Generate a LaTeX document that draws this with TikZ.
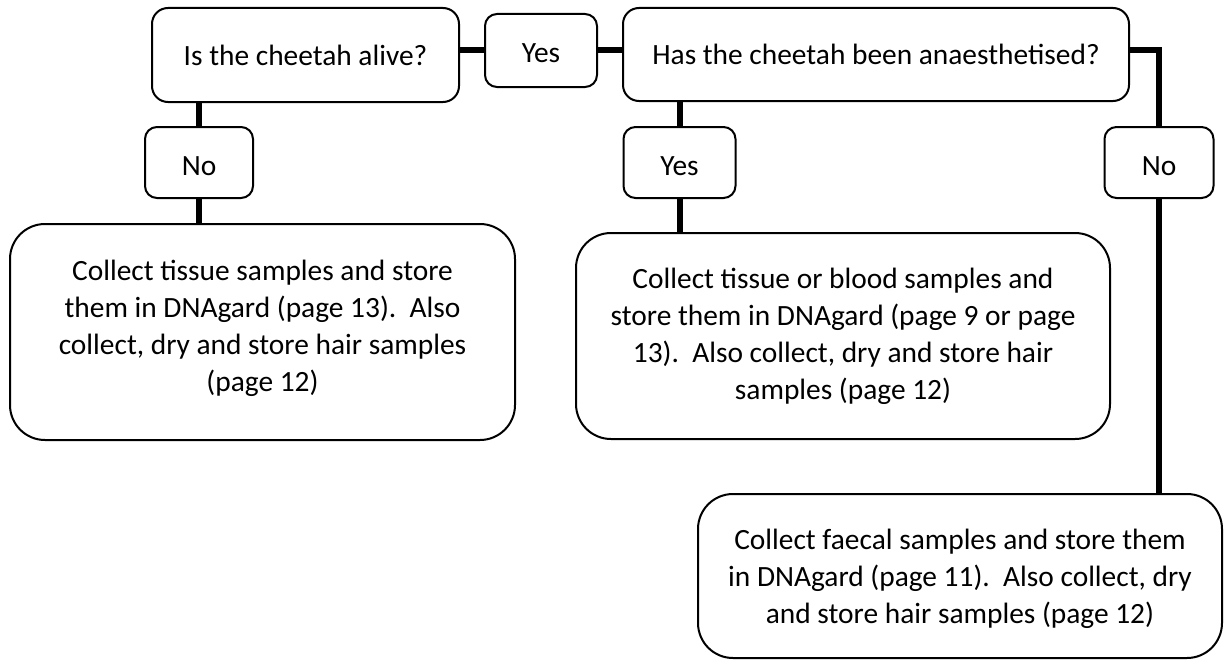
\documentclass[tikz,border=0pt]{standalone}
\usepackage{fontspec}
\setmainfont{Carlito}
\begin{document}
\begin{tikzpicture}[x=1pt,y=-1pt,
  box/.style={draw=black, line width=2pt, fill=white, rounded corners=#1, inner sep=0pt, align=center,
     font=\fontsize{29.4}{37}\selectfont},
  box/.default=16pt,
  small/.style={box=12pt, text height=25pt, text depth=0pt},
  txt/.style={inner sep=0pt, align=center, font=\fontsize{29.4}{37}\selectfont},
  conn/.style={draw=black, line width=6pt}]
\useasboundingbox (0,0) rectangle (1226,661);
% nodes
\node[box, minimum width=307pt, minimum height=94pt] (A) at (305.5,55) {Is the cheetah alive?};
\node[small, minimum width=112pt, minimum height=73pt] (Y1) at (541,50.5) {Yes};
\node[box, minimum width=506pt, minimum height=93pt] (B) at (876,54.5) {Has the cheetah been anaesthetised?};
\node[small, minimum width=108pt, minimum height=71pt] (N1) at (199,162.5) {No};
\node[small, minimum width=112pt, minimum height=71pt] (Y2) at (679.5,162.5) {Yes};
\node[small, minimum width=109pt, minimum height=71pt] (N2) at (1159,162.5) {No};
\node[box=35pt, minimum width=505pt, minimum height=216pt] (C) at (262.5,332) {};
\node[txt] (Ct) at ([yshift=4pt]C.center)
  {Collect tissue samples and store\\them in DNAgard (page 13).\ \ Also\\collect, dry and store hair samples\\(page 12)};
\node[box=35pt, minimum width=534pt, minimum height=206pt] (E) at (843,336) {};
\node[txt] (Et) at (E.center)
  {Collect tissue or blood samples and\\store them in DNAgard (page 9 or page\\13).\ \ Also collect, dry and store hair\\samples (page 12)};
\node[box=35pt, minimum width=524pt, minimum height=164pt] (D) at (960,576) {};
\node[txt] (Dt) at ([yshift=-3pt]D.center)
  {Collect faecal samples and store them\\in DNAgard (page 11).\ \ Also collect, dry\\and store hair samples (page 12)};
% connectors between named nodes
\draw[conn] (Y1.west) -- (Y1.west -| A.east);
\draw[conn] (Y1.east) -- (Y1.east -| B.west);
\draw[conn] (Y1.east -| B.east) -| (N2.north);
\draw[conn] (N2.south) -- (N2.south |- D.north);
\draw[conn] (N1.north) -- (N1.north |- A.south);
\draw[conn] (N1.south) -- (N1.south |- C.north);
\draw[conn] (Y2.north) -- (Y2.north |- B.south);
\draw[conn] (Y2.south) -- (Y2.south |- E.north);
\end{tikzpicture}
\end{document}
